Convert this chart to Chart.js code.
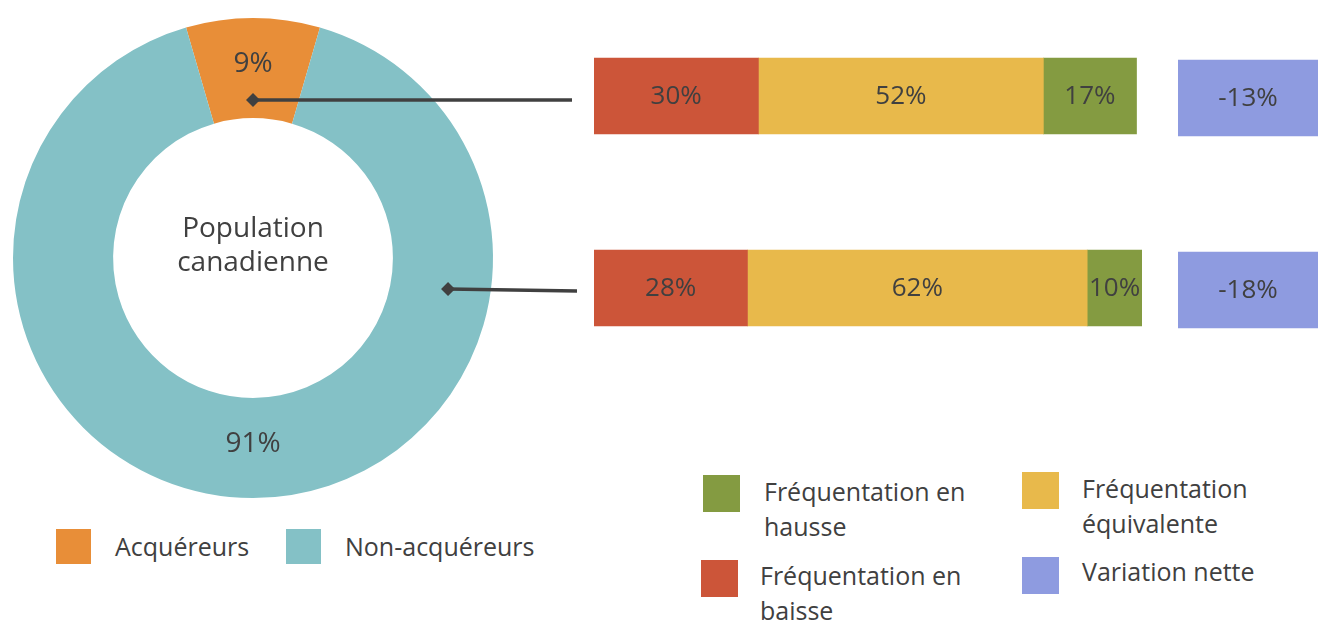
<!DOCTYPE html>
<html lang="fr">
<head>
<meta charset="utf-8">
<script src="https://cdn.jsdelivr.net/npm/chart.js@4.4.0/dist/chart.umd.min.js"></script>
<style>
  body { margin: 0; background: #fff; width: 1318px; height: 623px; overflow: hidden; position: relative;
         font-family: "Open Sans", "Noto Sans", sans-serif; color: #404040; }
  canvas { position: absolute; }
  #donut { left: 0; top: 0; }
  #bars { left: 594px; top: 0; }
  #variation { left: 1178px; top: 2px; }
  .sw { position: absolute; }
  .lbl { position: absolute; font-size: 25px; line-height: 35px; white-space: nowrap; }
</style>
</head>
<body>
<canvas id="donut" width="600" height="516"></canvas>
<canvas id="bars" width="548" height="384"></canvas>
<canvas id="variation" width="140" height="384"></canvas>
<div id="legends"></div>

<script>
// --- data ---
const populationLabels = ['Acquéreurs', 'Non-acquéreurs'];
const populationValues = [9, 91];
const populationColors = ['#E88E38', '#84C1C6'];

const groups = ['Acquéreurs', 'Non-acquéreurs'];
const baisse = [30, 28];
const equivalente = [52, 62];
const hausse = [17, 10];
const variationNette = [-13, -18];

const textColor = '#404040';
const fontFamily = '"Open Sans", "Noto Sans", sans-serif';

// labels inside the doughnut + centre text + connector lines to the bars
const donutDecor = {
    id: 'donutDecor',
    afterDatasetsDraw(chart) {
        const ctx = chart.ctx;
        const arcs = chart.getDatasetMeta(0).data;
        ctx.save();
        ctx.fillStyle = textColor;
        ctx.font = '28px ' + fontFamily;
        ctx.textAlign = 'center';
        ctx.textBaseline = 'middle';
        arcs.forEach((arc, i) => {
            const p = arc.getCenterPoint();
            ctx.fillText(populationValues[i] + '%', p.x, p.y - 4);
        });

        const cx = arcs[0].x, cy = arcs[0].y;
        ctx.font = '28px ' + fontFamily;
        ctx.fillText('Population', cx, cy - 29);
        ctx.fillText('canadienne', cx, cy + 5);

        // connectors: anchor angle (deg clockwise from top), position in ring, end point
        const anchors = [
            { angle: 0, frac: 0.18, endX: 572, dy: 0 },
            { angle: 99, frac: 0.575, endX: 577, dy: 2 }
        ];
        const inner = arcs[0].innerRadius, outer = arcs[0].outerRadius;
        ctx.strokeStyle = textColor;
        ctx.fillStyle = textColor;
        ctx.lineWidth = 3.5;
        anchors.forEach(a => {
            const r = inner + (outer - inner) * a.frac;
            const t = (a.angle - 90) * Math.PI / 180;
            const x = cx + r * Math.cos(t), y = cy + r * Math.sin(t);
            ctx.beginPath();
            ctx.moveTo(x, y);
            ctx.lineTo(a.endX, y + a.dy);
            ctx.stroke();
            ctx.beginPath();
            ctx.moveTo(x - 7, y);
            ctx.lineTo(x, y - 7);
            ctx.lineTo(x + 7, y);
            ctx.lineTo(x, y + 7);
            ctx.closePath();
            ctx.fill();
        });
        ctx.restore();
    }
};

new Chart(document.getElementById('donut'), {
    type: 'doughnut',
    data: {
        labels: populationLabels,
        datasets: [{
            data: populationValues,
            backgroundColor: populationColors,
            borderWidth: 0
        }]
    },
    options: {
        responsive: false,
        animation: false,
        cutout: '58.3%',
        rotation: -populationValues[0] * 360 / 100 / 2,
        layout: { padding: { left: 13, right: 107, top: 13, bottom: 13 } },
        plugins: { legend: { display: false }, tooltip: { enabled: false } }
    },
    plugins: [donutDecor]
});

// value labels centred in each bar
function barLabels(format) {
    return {
        id: 'barLabels',
        afterDatasetsDraw(chart) {
            const ctx = chart.ctx;
            ctx.save();
            ctx.fillStyle = textColor;
            ctx.font = '26px ' + fontFamily;
            ctx.textAlign = 'center';
            ctx.textBaseline = 'middle';
            chart.data.datasets.forEach((ds, di) => {
                chart.getDatasetMeta(di).data.forEach((bar, i) => {
                    const p = bar.getCenterPoint();
                    ctx.fillText(format(ds, i), p.x, p.y + 1);
                });
            });
            ctx.restore();
        }
    };
}

const stackDatasets = [
    { label: 'Fréquentation en baisse', data: baisse, backgroundColor: '#CC5539' },
    { label: 'Fréquentation équivalente', data: equivalente, backgroundColor: '#E8B94B' },
    { label: 'Fréquentation en hausse', data: hausse, backgroundColor: '#849B41' }
];

new Chart(document.getElementById('bars'), {
    type: 'bar',
    data: { labels: groups, datasets: stackDatasets.map(d => ({ ...d, barThickness: 76, borderWidth: 0 })) },
    options: {
        indexAxis: 'y',
        responsive: false,
        animation: false,
        layout: { padding: 0 },
        scales: {
            x: { stacked: true, min: 0, max: 100, display: false },
            y: { stacked: true, display: false }
        },
        plugins: { legend: { display: false }, tooltip: { enabled: false } }
    },
    plugins: [barLabels((ds, i) => ds.data[i] + '%')]
});

// net variation shown as a fixed-size tag next to each bar
new Chart(document.getElementById('variation'), {
    type: 'bar',
    data: {
        labels: groups,
        datasets: [{
            label: 'Variation nette',
            data: variationNette.map(() => 1),
            values: variationNette,
            backgroundColor: '#8E9BE0',
            barThickness: 76,
            borderWidth: 0
        }]
    },
    options: {
        indexAxis: 'y',
        responsive: false,
        animation: false,
        scales: {
            x: { min: 0, max: 1, display: false },
            y: { display: false }
        },
        plugins: { legend: { display: false }, tooltip: { enabled: false } }
    },
    plugins: [barLabels((ds, i) => ds.values[i] + '%')]
});

// --- legends ---
const legendItems = [
    { lines: ['Acquéreurs'], color: populationColors[0], sq: [56, 529, 35], text: [115, 529] },
    { lines: ['Non-acquéreurs'], color: populationColors[1], sq: [286, 529, 35], text: [345, 529] },
    { lines: ['Fréquentation en', 'hausse'], color: '#849B41', sq: [703, 475, 37], text: [764, 474] },
    { lines: ['Fréquentation', 'équivalente'], color: '#E8B94B', sq: [1022, 472, 37], text: [1082, 471] },
    { lines: ['Fréquentation en', 'baisse'], color: '#CC5539', sq: [701, 560, 37], text: [760, 558] },
    { lines: ['Variation nette'], color: '#8E9BE0', sq: [1022, 557, 37], text: [1082, 554] }
];
const legendBox = document.getElementById('legends');
legendItems.forEach(item => {
    const sw = document.createElement('div');
    sw.className = 'sw';
    sw.style.cssText = `left:${item.sq[0]}px;top:${item.sq[1]}px;width:${item.sq[2]}px;height:${item.sq[2]}px;background:${item.color}`;
    legendBox.appendChild(sw);
    const lb = document.createElement('div');
    lb.className = 'lbl';
    lb.style.left = item.text[0] + 'px';
    lb.style.top = item.text[1] + 'px';
    lb.innerHTML = item.lines.join('<br>');
    legendBox.appendChild(lb);
});
</script>
</body>
</html>
